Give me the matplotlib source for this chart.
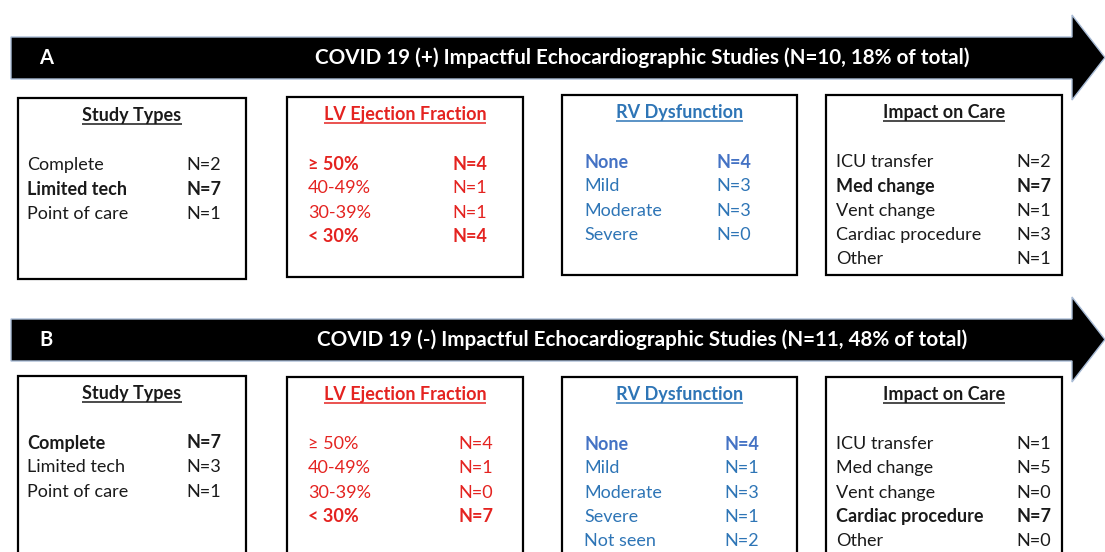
import matplotlib
matplotlib.use("Agg")
import matplotlib.pyplot as plt
from matplotlib.patches import Polygon, Rectangle

plt.rcParams['font.family'] = ['Lato', 'DejaVu Sans']

# ---- data ----
panel_letters = ["A", "B"]
panel_titles = ["COVID 19 (+) Impactful Echocardiographic Studies (N=10, 18% of total)",
                "COVID 19 (-) Impactful Echocardiographic Studies (N=11, 48% of total)"]

box_titles = ["Study Types", "LV Ejection Fraction", "RV Dysfunction", "Impact on Care"]

study_cats = ["Complete", "Limited tech", "Point of care"]
a_study_n = [2, 7, 1]
a_study_bold = [False, True, False]
b_study_n = [7, 3, 1]
b_study_bold = [True, False, False]

lvef_cats = ["\u2265 50%", "40-49%", "30-39%", "< 30%"]
a_lvef_n = [4, 1, 1, 4]
a_lvef_bold = [True, False, False, True]
b_lvef_n = [4, 1, 0, 7]
b_lvef_bold = [False, False, False, True]

rv_cats_a = ["None", "Mild", "Moderate", "Severe"]
rv_cats_b = ["None", "Mild", "Moderate", "Severe", "Not seen"]
a_rv_n = [4, 3, 3, 0]
a_rv_bold = [True, False, False, False]
b_rv_n = [4, 1, 3, 1, 2]
b_rv_bold = [True, False, False, False, False]

impact_cats = ["ICU transfer", "Med change", "Vent change", "Cardiac procedure", "Other"]
a_impact_n = [2, 7, 1, 3, 1]
a_impact_bold = [False, True, False, False, False]
b_impact_n = [1, 5, 0, 7, 0]
b_impact_bold = [False, False, False, True, False]

# ---- style / layout ----
RED = "#e42320"
BLUE = "#2e75b6"
BLUE_BOLD = "#4472c4"
BLACK = "#1a1a1a"
title_colors = [BLACK, RED, BLUE, BLACK]
row_colors = [BLACK, RED, BLUE, BLACK]

box_x = [(18, 246), (287, 523), (562, 797), (826, 1062)]
label_x = [27, 308, 584, 836]
value_x_a = [186, 452, 716, 1016]
value_x_b = [186, 458, 724, 1016]

fig = plt.figure(figsize=(11.05, 5.52), dpi=100)
ax = fig.add_axes([0, 0, 1, 1])
ax.set_xlim(0, 1105)
ax.set_ylim(552, 0)
ax.axis('off')

panels = [
    dict(off=0, cats=[study_cats, lvef_cats, rv_cats_a, impact_cats],
         n=[a_study_n, a_lvef_n, a_rv_n, a_impact_n],
         bold=[a_study_bold, a_lvef_bold, a_rv_bold, a_impact_bold],
         vx=value_x_a, box_top=[98, 97, 95, 95], box_bot=[279, 277, 275, 275]),
    dict(off=282, cats=[study_cats, lvef_cats, rv_cats_b, impact_cats],
         n=[b_study_n, b_lvef_n, b_rv_n, b_impact_n],
         bold=[b_study_bold, b_lvef_bold, b_rv_bold, b_impact_bold],
         vx=value_x_b, box_top=[94, 95, 95, 95], box_bot=[300, 300, 300, 300]),
]

titles_to_underline = []

for p, (letter, ptitle) in enumerate(zip(panel_letters, panel_titles)):
    info = panels[p]
    o = info['off']
    # arrow
    arrow = Polygon([(11, o + 37), (1072, o + 37), (1072, o + 15), (1105, o + 57.5),
                     (1072, o + 100), (1072, o + 79), (11, o + 79)],
                    closed=True, facecolor='black', edgecolor='#a9bcd6', lw=1.0)
    ax.add_patch(arrow)
    ax.text(46, o + 58, letter, color='white', fontsize=14.5, fontweight='bold',
            ha='center', va='center')
    ax.text(642, o + 58, ptitle, color='white', fontsize=14.9, fontweight='bold',
            ha='center', va='center')

    for b in range(4):
        x0, x1 = box_x[b]
        top = o + info['box_top'][b]
        bot = o + info['box_bot'][b]
        ax.add_patch(Rectangle((x0, top), x1 - x0, bot - top, facecolor='white',
                               edgecolor='black', lw=1.6))
        t = ax.text((x0 + x1) / 2, top + 23, box_titles[b], color=title_colors[b],
                    fontsize=13, fontweight='bold', ha='center', va='baseline')
        titles_to_underline.append((t, top + 25.5, title_colors[b]))

        row0 = top + 67
        for i, (cat, n, bd) in enumerate(zip(info['cats'][b], info['n'][b], info['bold'][b])):
            c = row_colors[b]
            if b == 2 and bd:
                c = BLUE_BOLD
            w = 'bold' if bd else 'normal'
            y = row0 + i * 24.3
            ax.text(label_x[b], y, cat, color=c, fontsize=13, fontweight=w,
                    ha='left', va='center')
            ax.text(info['vx'][b], y, "N={}".format(n), color=c, fontsize=13,
                    fontweight=w, ha='left', va='center')

# underline box titles
fig.canvas.draw()
renderer = fig.canvas.get_renderer()
inv = ax.transData.inverted()
for t, y, c in titles_to_underline:
    bb = t.get_window_extent(renderer)
    (xa, _), (xb, _) = inv.transform([(bb.x0, bb.y0), (bb.x1, bb.y1)])
    ax.plot([xa, xb], [y, y], color=c, lw=1.1, solid_capstyle='butt')

fig.savefig("out.png", dpi=100)
